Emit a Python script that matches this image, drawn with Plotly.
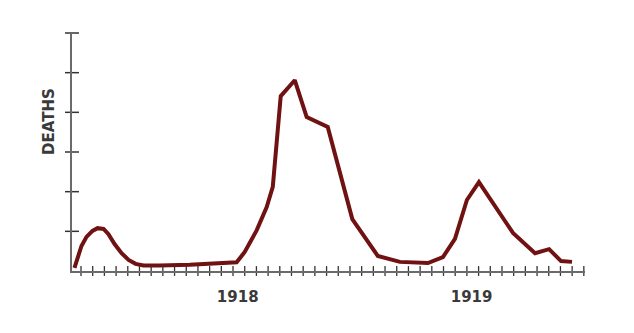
import plotly.graph_objects as go

# Weekly-ish index (one unit = one tick on the axis) and death level (axis units)
x_vals = [-0.56, -0.30, 0.04, 0.47, 0.98, 1.41, 1.93, 2.35, 2.87, 3.47, 4.07, 4.67, 5.35,
          6.72, 9.29, 13.31, 14.0, 15.03, 15.88, 16.40, 17.08, 18.28, 19.30, 21.10,
          23.2, 25.38, 27.27, 29.67, 30.95, 31.98, 33.0, 34.03, 36.94, 38.83, 40.03,
          41.05, 41.99]
deaths = [0.08, 0.35, 0.63, 0.86, 1.01, 1.08, 1.06, 0.93, 0.68, 0.45, 0.28, 0.18, 0.14,
          0.14, 0.16, 0.22, 0.48, 1.03, 1.61, 2.12, 4.41, 4.81, 3.88, 3.63,
          1.31, 0.38, 0.23, 0.20, 0.35, 0.81, 1.79, 2.24, 0.96, 0.45, 0.55,
          0.25, 0.23]

x_tick_positions = list(range(0, 44))
y_tick_positions = [1, 2, 3, 4, 5, 6]
year_positions = [13.4, 33.4]
year_labels = ["1918", "1919"]

X_MIN, X_MAX = -0.77, 43.1
Y_MIN, Y_MAX = 0, 6

fig = go.Figure()

fig.add_trace(go.Scatter(
    x=x_vals, y=deaths, mode="lines",
    line=dict(color="#701212", width=4),
    cliponaxis=False, hoverinfo="skip", showlegend=False,
))

# crossing tick marks on the x axis
fig.add_trace(go.Scatter(
    x=x_tick_positions, y=[0] * len(x_tick_positions), mode="markers",
    marker=dict(symbol="line-ns", size=7, line=dict(color="#333333", width=1.3)),
    cliponaxis=False, hoverinfo="skip", showlegend=False,
))
# crossing tick marks on the y axis
fig.add_trace(go.Scatter(
    x=[X_MIN] * len(y_tick_positions), y=y_tick_positions, mode="markers",
    marker=dict(symbol="line-ew", size=10, line=dict(color="#333333", width=1.5)),
    cliponaxis=False, hoverinfo="skip", showlegend=False,
))

fig.update_layout(
    width=634, height=333,
    margin=dict(l=72, r=49, t=33, b=62),
    paper_bgcolor="white", plot_bgcolor="white",
    xaxis=dict(range=[X_MIN, X_MAX], showgrid=False, zeroline=False,
               showline=True, linecolor="#6a6a6a", linewidth=1.5,
               tickmode="array", tickvals=year_positions, ticktext=year_labels,
               ticks="", ticklabelstandoff=11,
               tickfont=dict(family="DejaVu Sans", size=15, color="#3a3a3a", weight="bold")),
    yaxis=dict(range=[Y_MIN, Y_MAX], showgrid=False, zeroline=False,
               showline=True, linecolor="#6a6a6a", linewidth=1.5,
               showticklabels=False, ticks=""),
    annotations=[dict(
        text="DEATHS", textangle=-90, xref="paper", yref="paper",
        x=-0.045, y=0.63, xanchor="center", yanchor="middle", showarrow=False,
        font=dict(family="DejaVu Sans", size=15, color="#3a3a3a", weight="bold"),
    )],
)

fig.write_html("out.html")
